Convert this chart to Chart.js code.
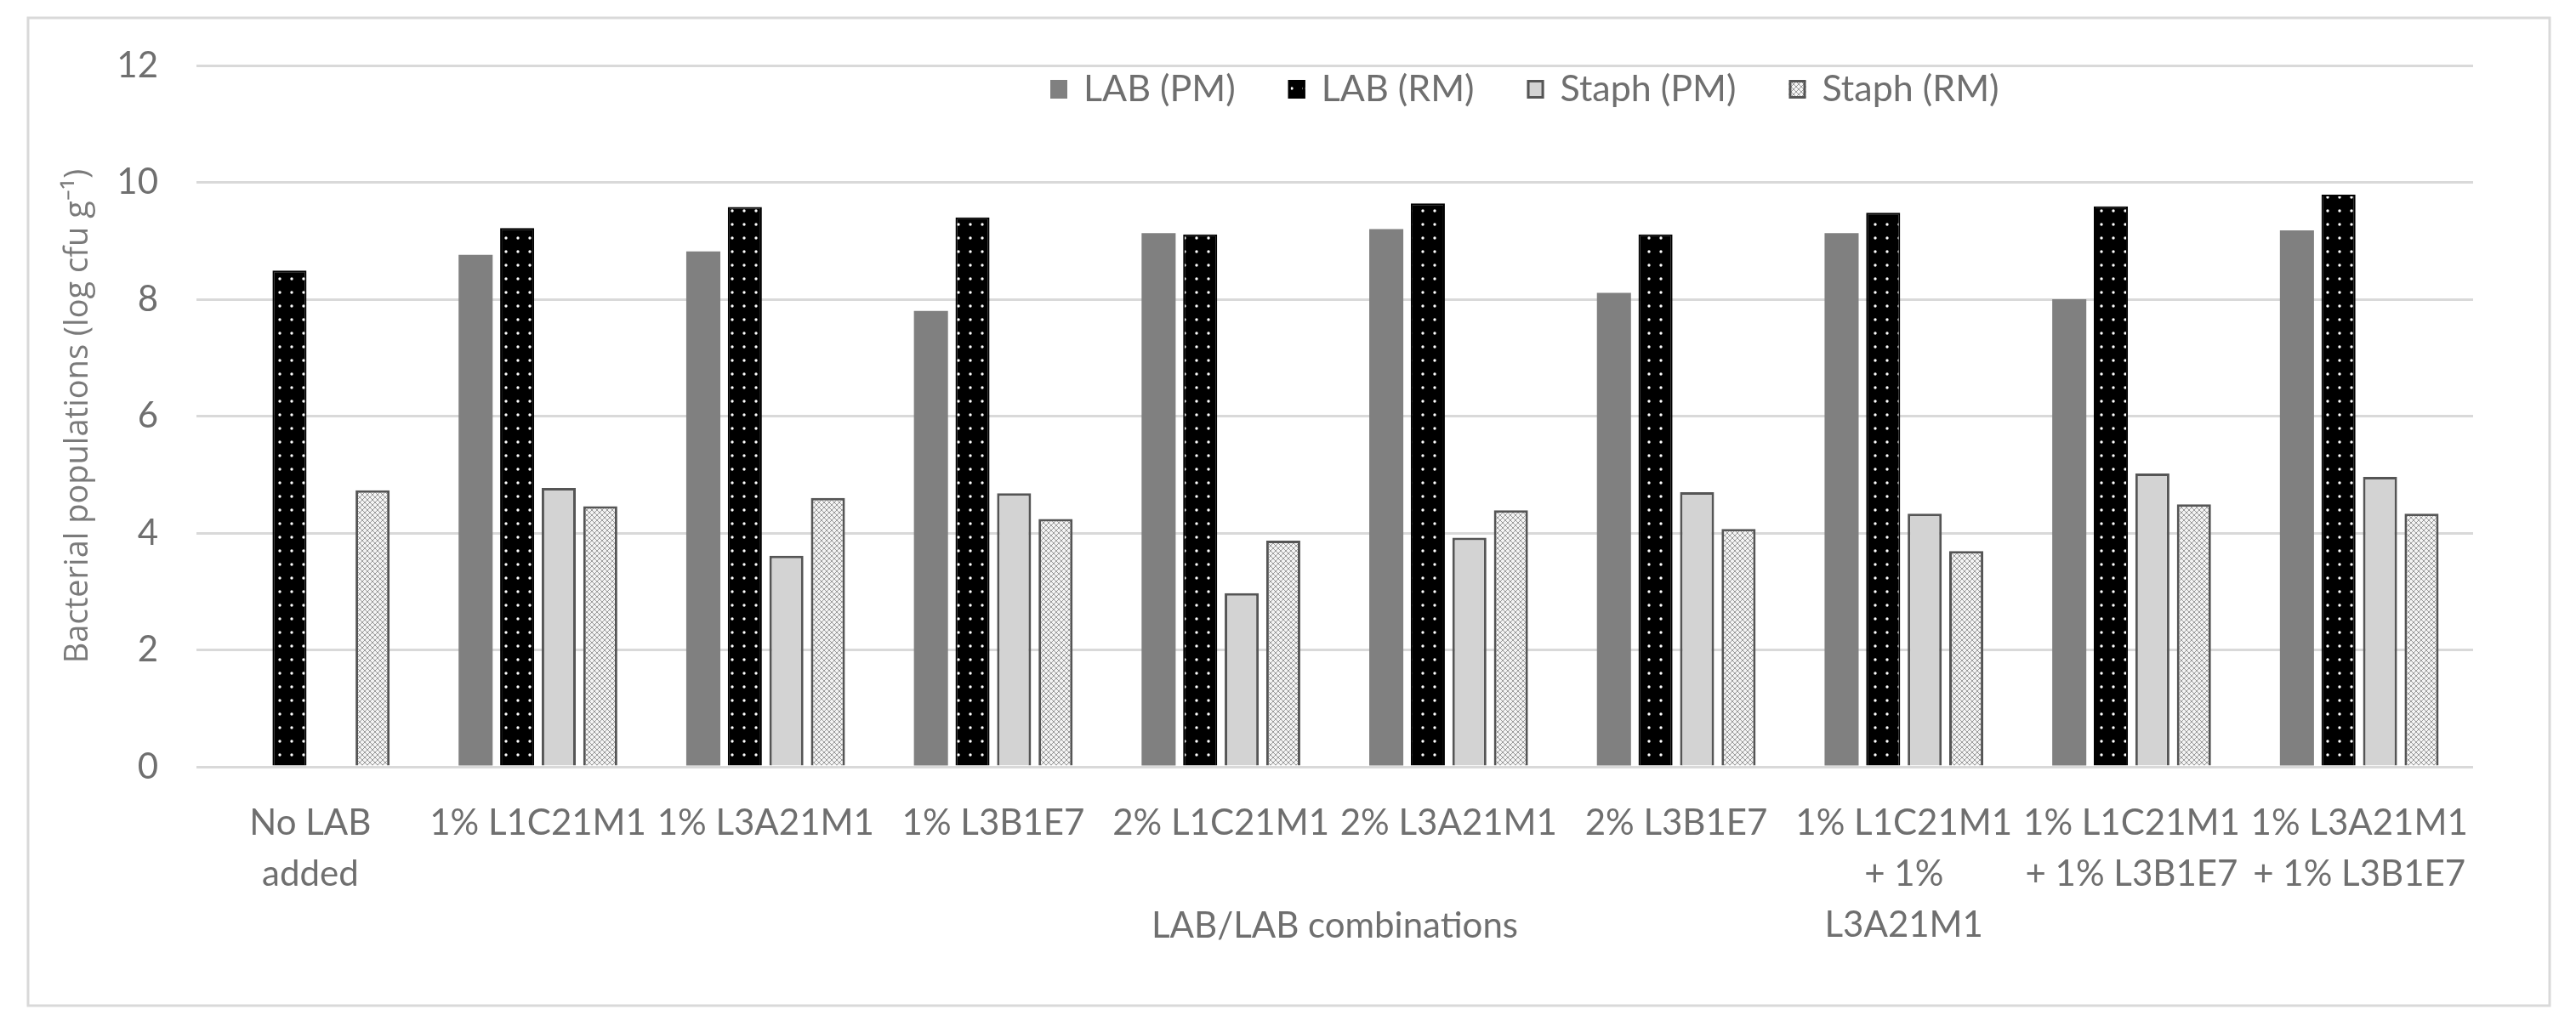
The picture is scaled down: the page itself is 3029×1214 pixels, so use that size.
<!DOCTYPE html>
<html>
<head>
<meta charset="utf-8">
<title>Bacterial populations</title>
<script src="https://cdn.jsdelivr.net/npm/chart.js@4.4.1/dist/chart.umd.min.js"></script>
<style>
    html, body { margin: 0; padding: 0; background: #fff; }
    #wrap { position: relative; width: 3029px; height: 1214px; }
</style>
</head>
<body>
<div id="wrap"><canvas id="popChart" width="3029" height="1214"></canvas></div>
<script>
// ==========================================================================
// DATA
// ==========================================================================
const categories = [
    ['No LAB', 'added'],
    '1% L1C21M1',
    '1% L3A21M1',
    '1% L3B1E7',
    '2% L1C21M1',
    '2% L3A21M1',
    '2% L3B1E7',
    ['1% L1C21M1', '+ 1%', 'L3A21M1'],
    ['1% L1C21M1', '+ 1% L3B1E7'],
    ['1% L3A21M1', '+ 1% L3B1E7']
];
const seriesNames = ['LAB (PM)', 'LAB (RM)', 'Staph (PM)', 'Staph (RM)'];
const labPM   = [null, 8.76, 8.82, 7.80, 9.13, 9.20, 8.11, 9.13, 8.00, 9.18];
const labRM   = [8.49, 9.22, 9.58, 9.40, 9.11, 9.64, 9.11, 9.48, 9.59, 9.79];
const staphPM = [null, 4.77, 3.61, 4.68, 2.97, 3.92, 4.70, 4.33, 5.02, 4.96];
const staphRM = [4.73, 4.46, 4.60, 4.24, 3.87, 4.39, 4.07, 3.69, 4.49, 4.33];
const yTicks  = [0, 2, 4, 6, 8, 10, 12];
const yTitle  = 'Bacterial populations (log cfu g\u207B\u00B9)';
const xTitle  = 'LAB/LAB combinations';

// ==========================================================================
// FILL PATTERNS (Excel style hatches)
// ==========================================================================
const canvas = document.getElementById('popChart');
const ctx = canvas.getContext('2d');

function dotPattern() {
    const c = document.createElement('canvas');
    c.width = 14; c.height = 16;
    const g = c.getContext('2d');
    g.fillStyle = '#000';
    g.fillRect(0, 0, 14, 16);
    g.fillStyle = '#ffffff';
    g.beginPath();
    g.arc(7, 8, 1.7, 0, Math.PI * 2);
    g.fill();
    return ctx.createPattern(c, 'repeat');
}

function checkPattern() {
    const c = document.createElement('canvas');
    c.width = 6; c.height = 6;
    const g = c.getContext('2d');
    g.fillStyle = '#f4f4f4';
    g.fillRect(0, 0, 6, 6);
    g.strokeStyle = '#9a9a9a';
    g.lineWidth = 1;
    g.beginPath();
    g.moveTo(0, 0); g.lineTo(6, 6);
    g.moveTo(6, 0); g.lineTo(0, 6);
    g.stroke();
    return ctx.createPattern(c, 'repeat');
}

const fills = ['#808080', dotPattern(), '#d3d3d3', checkPattern()];
const borders = ['#808080', '#000000', '#555555', '#555555'];
const borderWidths = [0, 2, 3, 3];

const tickColor = '#6f6f6f';
const tickFont = { family: 'Lato', size: 42, lineHeight: 60 / 42 };

// ==========================================================================
// PLUGINS: chart frame + in-plot legend
// ==========================================================================
const framePlugin = {
    id: 'frame',
    beforeDraw(chart) {
        const c = chart.ctx;
        c.save();
        c.fillStyle = '#ffffff';
        c.fillRect(0, 0, chart.width, chart.height);
        c.strokeStyle = '#d9d9d9';
        c.lineWidth = 3;
        c.strokeRect(33, 21, 2965, 1162);
        c.restore();
    }
};

const legendPlugin = {
    id: 'inlineLegend',
    afterDraw(chart) {
        const c = chart.ctx;
        c.save();
        c.font = '43px Lato';
        c.textBaseline = 'middle';
        let x = 1235;
        const y = 105;
        chart.data.datasets.forEach((ds) => {
            c.fillStyle = ds.backgroundColor;
            c.fillRect(x, y - 11, 20, 22);
            if (ds.borderWidth > 0) {
                c.strokeStyle = ds.borderColor;
                c.lineWidth = 3;
                c.strokeRect(x + 1.5, y - 9.5, 17, 19);
            }
            c.fillStyle = tickColor;
            c.fillText(ds.label, x + 39, y);
            x += 39 + c.measureText(ds.label).width + 62;
        });
        c.restore();
    }
};

// ==========================================================================
// CHART
// ==========================================================================
const seriesValues = [labPM, labRM, staphPM, staphRM];

new Chart(ctx, {
    type: 'bar',
    data: {
        labels: categories,
        datasets: seriesValues.map((vals, i) => ({
            label: seriesNames[i],
            data: vals,
            backgroundColor: fills[i],
            borderColor: borders[i],
            borderWidth: borderWidths[i],
            categoryPercentage: 0.73,
            barPercentage: 0.82
        }))
    },
    options: {
        responsive: false,
        devicePixelRatio: 1,
        animation: false,
        layout: { padding: { top: 77, right: 121, left: 0, bottom: 0 } },
        plugins: {
            legend: { display: false },
            tooltip: { enabled: false }
        },
        scales: {
            x: {
                grid: { display: false, drawTicks: false },
                border: { display: false },
                ticks: {
                    color: tickColor,
                    font: tickFont,
                    padding: 36,
                    maxRotation: 0,
                    minRotation: 0,
                    autoSkip: false
                },
                title: {
                    display: true,
                    text: xTitle,
                    color: tickColor,
                    font: { family: 'Lato', size: 42 },
                    padding: { top: 0, bottom: 99 }
                },
                afterFit(scale) { scale.height = 312; }
            },
            y: {
                min: 0,
                max: 12,
                afterBuildTicks(scale) {
                    scale.ticks = yTicks.map(v => ({ value: v }));
                },
                grid: { color: '#d9d9d9', lineWidth: 3, drawTicks: false },
                border: { display: false },
                ticks: {
                    color: tickColor,
                    font: { family: 'Lato', size: 42 },
                    padding: 45
                },
                title: {
                    display: true,
                    text: yTitle,
                    color: '#7a7a7a',
                    font: { family: 'Open Sans', size: 38 },
                    padding: { top: 69, bottom: 0 }
                },
                afterFit(scale) { scale.width = 231; }
            }
        }
    },
    plugins: [framePlugin, legendPlugin]
});
</script>
</body>
</html>
